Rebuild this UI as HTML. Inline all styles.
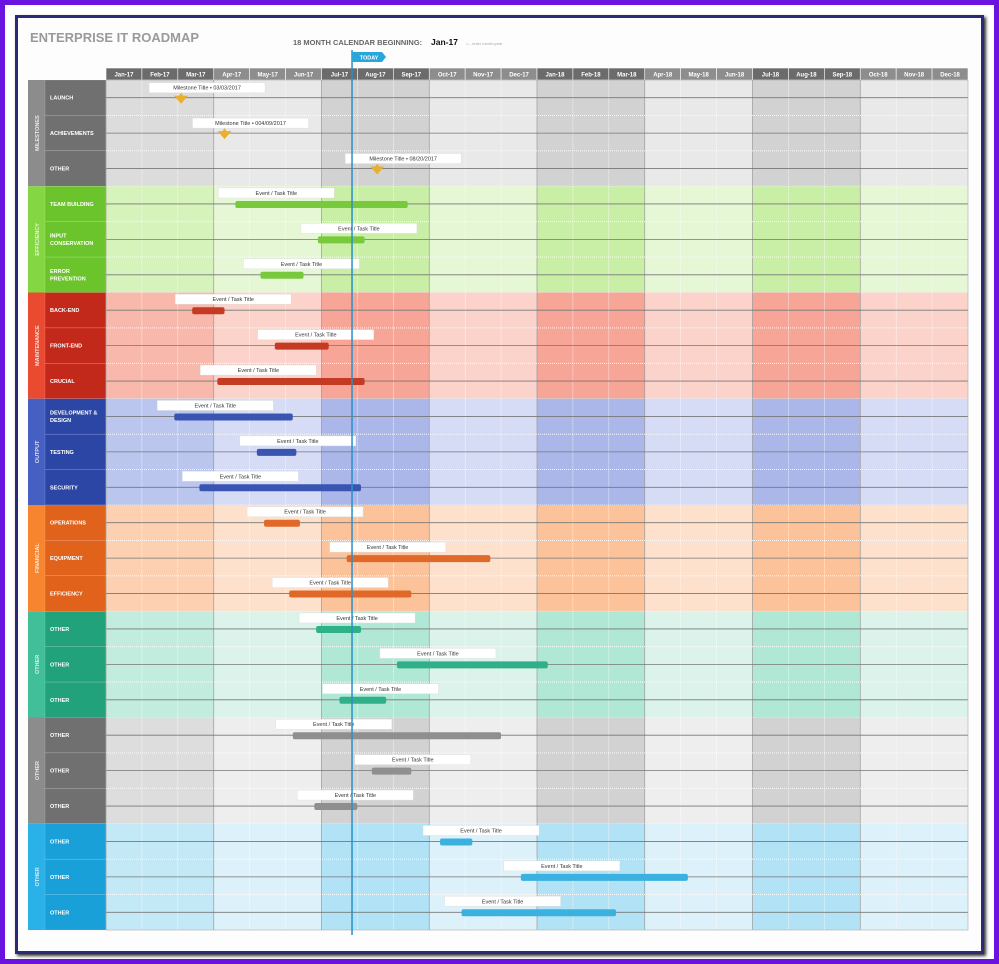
<!DOCTYPE html>
<html><head><meta charset="utf-8"><style>
html,body{margin:0;padding:0;background:#fff;}
body{width:999px;height:964px;overflow:hidden;position:relative;font-family:"Liberation Sans",sans-serif;}
#outer{position:absolute;left:0;top:0;width:989px;height:954px;border:5px solid #6a12e0;}
#frame{position:absolute;left:15px;top:15px;width:963px;height:933px;border:3px solid #2a2a78;background:#fdfdfd;box-shadow:2px 2px 3px #333;}
svg{position:absolute;left:0;top:0;}
</style></head><body>
<div id="outer"></div>
<div id="frame"></div>
<svg id="chart" width="999" height="964">
<text x="30" y="42" font-size="13" font-weight="bold" fill="#9a9a9a">ENTERPRISE IT ROADMAP</text>
<text x="293" y="45" font-size="7.5" font-weight="bold" fill="#666">18 MONTH CALENDAR BEGINNING:</text>
<text x="431" y="45" font-size="8.5" font-weight="bold" fill="#111">Jan-17</text>
<text x="466" y="45" font-size="4" fill="#aaa">&lt;-- enter month/year</text>
</svg>
<script>
const months=["Jan-17","Feb-17","Mar-17","Apr-17","May-17","Jun-17","Jul-17","Aug-17","Sep-17","Oct-17","Nov-17","Dec-17","Jan-18","Feb-18","Mar-18","Apr-18","May-18","Jun-18","Jul-18","Aug-18","Sep-18","Oct-18","Nov-18","Dec-18"];
const groups=["MILESTONES","EFFICIENCY","MAINTENANCE","OUTPUT","FINANCIAL","OTHER","OTHER","OTHER"];
const rowLabels=[["LAUNCH","ACHIEVEMENTS","OTHER"],["TEAM BUILDING","INPUT|CONSERVATION","ERROR|PREVENTION"],["BACK-END","FRONT-END","CRUCIAL"],["DEVELOPMENT &|DESIGN","TESTING","SECURITY"],["OPERATIONS","EQUIPMENT","EFFICIENCY"],["OTHER","OTHER","OTHER"],["OTHER","OTHER","OTHER"],["OTHER","OTHER","OTHER"]];
const milestoneTitles=["Milestone Title  •  03/03/2017","Milestone Title  •  004/09/2017","Milestone Title  •  08/20/2017"];
const milestoneMonths=[2.09,3.3,7.55];
const taskStarts=[3.6,5.9,4.3, 2.4,4.7,3.1, 1.9,4.2,2.6, 4.4,6.7,5.1, 5.85,8.1,6.5, 5.2,7.4,5.8, 9.3,11.55,9.9];
const taskEnds=[8.4,7.2,5.5, 3.3,6.2,7.2, 5.2,5.3,7.1, 5.4,10.7,8.5, 7.1,12.3,7.8, 11.0,8.5,7.0, 10.2,16.2,14.2];
const todayMonth=6.85;
const pal=[
 {g:"#8c8c8c",r:"#707070",d:"#d2d2d2",m:"#dcdcdc",l:"#e9e9e9",b:"#999"},
 {g:"#84d643",r:"#6cc42c",d:"#c9efa6",m:"#d5f3bb",l:"#e5f7d4",b:"#79c93e"},
 {g:"#ea4a30",r:"#c3291b",d:"#f6a597",m:"#f8b8ab",l:"#fbd3cb",b:"#c43a22"},
 {g:"#4560c2",r:"#2c46a6",d:"#aab7e8",m:"#bac6ee",l:"#d6dcf5",b:"#3a54b2"},
 {g:"#f7842e",r:"#e0621b",d:"#fcc39b",m:"#fcd0b0",l:"#fde1cd",b:"#e0692a"},
 {g:"#40bf98",r:"#22a27b",d:"#b1e7d5",m:"#c2ecde",l:"#dbf3ea",b:"#30b088"},
 {g:"#8c8c8c",r:"#707070",d:"#d2d2d2",m:"#dddddd",l:"#eeeeee",b:"#8f8f8f"},
 {g:"#2ab2e8",r:"#1aa0d8",d:"#b1e2f5",m:"#c3e9f7",l:"#ddf1fa",b:"#3ab1de"}];
const svg=document.getElementById('chart');const NS="http://www.w3.org/2000/svg";
const X0=106,X1=968,Y0=80,Y1=930,HY=68;
const mw=(X1-X0)/months.length;const rh=(Y1-Y0)/24;
const xOf=m=>X0+m*mw;const yRow=i=>Y0+i*rh;
function el(t,a,p){const e=document.createElementNS(NS,t);for(const k in a)e.setAttribute(k,a[k]);(p||svg).appendChild(e);return e;}
months.forEach((m,i)=>{const q=Math.floor(i/3)%2===0;
 const r=el('rect',{x:xOf(i),y:HY,width:mw,height:12,fill:q?'#6b6b6b':'#8d8d8d',stroke:'#fff','stroke-width':0.6});
 
 
 const t=el('text',{x:xOf(i)+mw/2,y:HY+8.5,'font-size':6,'font-weight':'bold',fill:'#fff','text-anchor':'middle'});t.textContent=m;
 
 });
groups.forEach((g,gi)=>{const p=pal[gi];const gy=yRow(gi*3);
 months.forEach((m,i)=>{const qi=Math.floor(i/3);const q=qi%2===0;
  const c=el('rect',{x:xOf(i),y:gy,width:mw,height:rh*3,fill:qi===0?p.m:(q?p.d:p.l)});
  
  
  el('line',{x1:xOf(i),x2:xOf(i),y1:gy,y2:gy+rh*3,stroke:i%3===0?'#999':'#fff','stroke-width':i%3===0?0.7:0.6,'stroke-dasharray':i%3===0?'':'1,1'});});
 const gc=el('rect',{x:28,y:gy,width:17,height:rh*3,fill:p.g});
 
 
 const gt=el('text',{x:0,y:0,'font-size':5.5,'font-weight':'bold',fill:'rgba(255,255,255,0.8)','text-anchor':'middle',transform:`translate(${39},${gy+rh*1.5}) rotate(-90)`});gt.textContent=g;
 
 
 for(let r=0;r<3;r++){const ri=gi*3+r;const y=yRow(ri);
  const rc=el('rect',{x:45,y:y,width:61,height:rh,fill:p.r,stroke:'rgba(255,255,255,0.25)','stroke-width':0.5});
  
  
  const parts=rowLabels[gi][r].split('|');
  parts.forEach((s,k)=>{const t=el('text',{x:50,y:y+rh/2+2+(k-(parts.length-1)/2)*7.5,'font-size':5.5,'font-weight':'bold',fill:'#fff'});t.textContent=s;
   
   });
  el('line',{x1:X0,x2:X1,y1:y+rh/2,y2:y+rh/2,stroke:'#777','stroke-width':0.8});
  el('line',{x1:X0,x2:X1,y1:y+rh,y2:y+rh,stroke:'#fff','stroke-width':0.8,'stroke-dasharray':'1,1'});
 }});
el('rect',{x:X0,y:Y0,width:X1-X0,height:Y1-Y0,fill:'none',stroke:'#aaa','stroke-width':0.6});
function labelBox(x,y,txt){const b=el('rect',{x:x,y:y,width:116,height:10,fill:'#fff',stroke:'#ddd','stroke-width':0.4});
 
 
 const t=el('text',{x:x+58,y:y+7,'font-size':5.5,fill:'#333','text-anchor':'middle'});t.textContent=txt;
 
 }
milestoneMonths.forEach((m,i)=>{const cx=xOf(m);const ly=yRow(i)+rh/2;
 labelBox(cx-32,ly-15,milestoneTitles[i]);
 const d=el('path',{d:`M${cx-7} ${ly-2} L${cx-2} ${ly-2} L${cx} ${ly-5} L${cx+2} ${ly-2} L${cx+7} ${ly-2} L${cx} ${ly+6} Z`,fill:'#e8b030'});
 
 });
taskStarts.forEach((s,i)=>{const gi=1+Math.floor(i/3);const ri=gi*3+i%3;const ly=yRow(ri)+rh/2;
 const x1=xOf(s),x2=xOf(taskEnds[i]);
 labelBox(x1-17,ly-16,"Event / Task Title");
 const b=el('rect',{x:x1,y:ly-3,width:x2-x1,height:7,rx:2,fill:pal[gi].b});
 
 });
const tx=xOf(todayMonth);
el('line',{x1:tx,x2:tx,y1:50,y2:935,stroke:'#2a8fc8','stroke-width':1.5});
const tg=el('path',{d:`M${tx} 52 L${tx+30} 52 L${tx+34} 57 L${tx+30} 62 L${tx} 62 Z`,fill:'#2aa7da'});


const tt=el('text',{x:tx+17,y:59.5,'font-size':5.5,'font-weight':'bold',fill:'#fff','text-anchor':'middle'});tt.textContent="TODAY";


</script>
</body></html>
